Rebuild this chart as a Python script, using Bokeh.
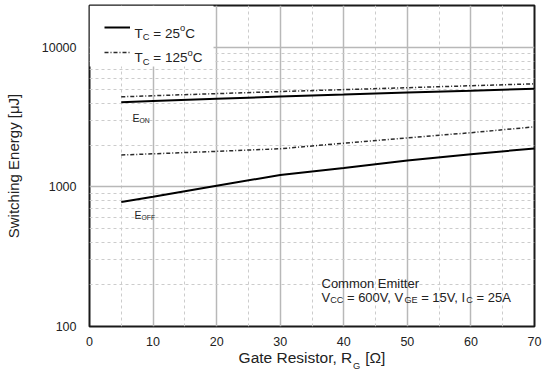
import math
from bokeh.plotting import figure
from bokeh.models import (Range1d, FixedTicker, PrintfTickFormatter, Label,
                          BoxAnnotation, Legend, LegendItem)
from bokeh.embed import file_html
from bokeh.resources import INLINE

# ---------------- data ----------------
rg = [5, 10, 20, 30, 40, 50, 60, 70]                      # Gate resistor [Ohm]
eon_25 = [4050, 4130, 4290, 4450, 4600, 4760, 4900, 5060]  # E_ON, Tc = 25C [uJ]
eon_125 = [4430, 4510, 4670, 4830, 4990, 5150, 5320, 5490] # E_ON, Tc = 125C
eoff_25 = [780, 850, 1020, 1220, 1370, 1550, 1720, 1890]   # E_OFF, Tc = 25C
eoff_125 = [1695, 1730, 1800, 1880, 2060, 2250, 2450, 2700] # E_OFF, Tc = 125C

x_ticks = [0, 10, 20, 30, 40, 50, 60, 70]
x_minor = [5, 15, 25, 35, 45, 55, 65]
y_ticks = [100, 1000, 10000]
y_minor = [200, 300, 400, 500, 600, 700, 800, 900,
           2000, 3000, 4000, 5000, 6000, 7000, 8000, 9000]

# ---------------- layout ----------------
W, H = 542, 379
FL, FR, FT, FB = 89, 534, 5, 326   # frame edges in pixels
XMIN, XMAX = 0, 70
YMIN, YMAX = 100, 20000
FONT = "Liberation Sans"
TXT = "#222222"
NB = "\u00a0"

p = figure(width=W, height=H, y_axis_type="log", output_backend="svg",
           toolbar_location=None,
           x_range=Range1d(XMIN, XMAX), y_range=Range1d(YMIN, YMAX),
           min_border_left=FL, min_border_right=W - FR,
           min_border_top=FT, min_border_bottom=H - FB)
p.background_fill_color = "white"
p.border_fill_color = "white"
p.outline_line_color = "#1a1a1a"
p.outline_line_width = 2

xt = FixedTicker(ticks=x_ticks, minor_ticks=x_minor)
yt = FixedTicker(ticks=y_ticks, minor_ticks=y_minor)
p.xaxis.ticker = xt
p.yaxis.ticker = yt
p.xgrid.ticker = xt
p.ygrid.ticker = yt
p.yaxis.formatter = PrintfTickFormatter(format="%d")

for ax in (p.xaxis, p.yaxis):
    ax.axis_line_color = None
    ax.major_tick_line_color = None
    ax.minor_tick_line_color = None
    ax.major_label_text_font = FONT
    ax.major_label_text_font_size = "12.5px"
    ax.major_label_text_color = TXT
    ax.axis_label_text_font = FONT
    ax.axis_label_text_font_style = "normal"
    ax.axis_label_text_color = TXT
p.xaxis.major_label_standoff = 4
p.yaxis.major_label_standoff = 7

p.yaxis.axis_label = "Switching Energy [μJ]"
p.yaxis.axis_label_text_font_size = "15px"
p.yaxis.axis_label_standoff = 17

XL_SIZE = 15.5
XL_MAIN, XL_SUB, XL_END = "Gate Resistor, R", "G", "[Ω]"
p.xaxis.axis_label = XL_MAIN + NB * 3 + XL_END
p.xaxis.axis_label_text_font_size = f"{XL_SIZE}px"
p.xaxis.axis_label_standoff = 0

for g in (p.xgrid, p.ygrid):
    g.grid_line_color = "#b8b8b8"
    g.grid_line_width = 1.5
    g.minor_grid_line_color = "#cccccc"
    g.minor_grid_line_width = 1
    g.minor_grid_line_dash = "3 3"

# ---------------- data lines ----------------
DASH = "4 2 1 2"
r1 = p.line(rg, eon_25, line_color="black", line_width=2)
r2 = p.line(rg, eon_125, line_color="#2a2a2a", line_width=1.5, line_dash=DASH)
p.line(rg, eoff_25, line_color="black", line_width=2)
p.line(rg, eoff_125, line_color="#2a2a2a", line_width=1.5, line_dash=DASH)

# ---------------- helpers for positioned text ----------------
def px2x(px):
    return XMIN + (px - FL) * (XMAX - XMIN) / (FR - FL)

def px2y(py):
    lo, hi = math.log10(YMIN), math.log10(YMAX)
    return 10 ** (lo + (FB - py) * (hi - lo) / (FB - FT))

AW = {' ': 278, NB: 278, '=': 584, ',': 278, '[': 278, ']': 278, 'A': 667,
      'C': 722, 'E': 667, 'F': 611, 'G': 778, 'I': 278, 'N': 722, 'O': 778,
      'R': 722, 'T': 611, 'V': 667, 'a': 556, 'e': 556, 'i': 222, 'o': 556,
      'r': 333, 's': 500, 't': 278, 'm': 833, 'n': 556, 'Ω': 768}

def text_w(s, size):
    return sum(AW.get(c, 556) for c in s) * size / 1000.0

def rich(px, base_py, parts, size, sub_scale=0.7, place="center"):
    x = px
    for txt, kind in parts:
        if kind == "sub":
            fs, py = size * sub_scale, base_py + size * 0.25
        elif kind == "sup":
            fs, py = size * sub_scale, base_py - size * 0.42
        else:
            fs, py = size, base_py
        lead = len(txt) - len(txt.lstrip(" "))
        x += text_w(" " * lead, fs)
        core = txt.strip(" ")
        trail = len(txt.lstrip(" ")) - len(core)
        if core:
            lab = Label(x=px2x(x), y=px2y(py), text=core, text_font=FONT,
                        text_font_size=f"{fs:.1f}px", text_color=TXT,
                        text_align="left", text_baseline="alphabetic")
            p.add_layout(lab, place)
        x += text_w(core, fs) + text_w(" " * trail, fs)

# ---------------- legend ----------------
p.add_layout(BoxAnnotation(left=XMIN, right=px2x(213), top=YMAX, bottom=px2y(66),
                           fill_color="white", fill_alpha=1.0, line_alpha=0.0))
legend = Legend(items=[LegendItem(label=" ", renderers=[r1]),
                       LegendItem(label=" ", renderers=[r2])],
                location="top_left", margin=0, padding=15, spacing=11,
                glyph_width=26, glyph_height=14, label_height=14,
                label_width=60, label_standoff=4, label_text_font_size="1px",
                background_fill_alpha=0.0, border_line_alpha=0.0)
p.add_layout(legend, "center")

rich(134, 32.7, [("T", "n"), ("C", "sub"), (" = 25", "n"), ("o", "sup"), ("C", "n")], 13.5)
rich(134, 57.2, [("T", "n"), ("C", "sub"), (" = 125", "n"), ("o", "sup"), ("C", "n")], 13.5)

# ---------------- curve labels ----------------
rich(132, 117.3, [("E", "n"), ("ON", "sub")], 10.5, 0.65)
rich(134, 214.0, [("E", "n"), ("OFF", "sub")], 10.5, 0.65)

# ---------------- conditions ----------------
rich(321, 282.7, [("Common Emitter", "n")], 13)
rich(321, 296.5, [("V", "n"), ("CC", "sub"), (" = 600V, V", "n"), ("GE", "sub"),
                  (" = 15V, I", "n"), ("C", "sub"), (" = 25A", "n")], 13)

# ---------------- subscript G of the x axis title (panel below) ----------------
full_w = text_w(XL_MAIN + NB * 3 + XL_END, XL_SIZE)
g_x = (FL + FR) / 2 - full_w / 2 + text_w(XL_MAIN, XL_SIZE) + 0.5
p.add_layout(Label(x=px2x(g_x), y=px2y(361.5 + XL_SIZE * 0.25), text=XL_SUB,
                   text_font=FONT, text_font_size=f"{XL_SIZE * 0.6:.1f}px",
                   text_color=TXT, text_align="left", text_baseline="alphabetic"),
             "below")

open("out.html", "w").write(file_html(p, INLINE))
